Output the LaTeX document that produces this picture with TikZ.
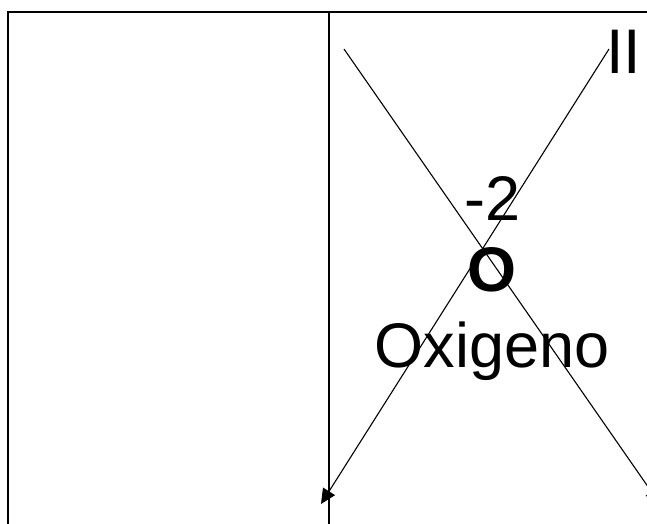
\documentclass[tikz,border=0pt]{standalone}
\usepackage{fontspec}
\setmainfont{Liberation Sans}
\usetikzlibrary{arrows.meta}
\tikzset{
  frameline/.style={line width=2pt, line cap=rect},
  crossline/.style={line width=1.1pt, -{Triangle[length=15pt,width=14pt]}},
  bigtext/.style={inner sep=0pt, anchor=base, font=\fontsize{63}{70}\selectfont}
}
\begin{document}
\begin{tikzpicture}[x=1pt,y=-1pt]
\useasboundingbox (0,0) rectangle (647,523);
\clip (0,0) rectangle (647,523);
\coordinate (tl) at (8,12);
\coordinate (tr) at (660,12);
\coordinate (bl) at (8,540);
\coordinate (mt) at (329,12);
\coordinate (mb) at (329,540);
\draw[frameline] (bl) -- (tl) -- (tr);
\draw[frameline] (mt) -- (mb);
\coordinate (aStart) at (344,49);
\coordinate (aEnd) at (660,504);
\coordinate (bStart) at (609,49);
\coordinate (bEnd) at (321,504);
\draw[crossline] (aStart) -- (aEnd);
\draw[crossline] (bStart) -- (bEnd);
\node[bigtext, anchor=base west] (ii) at (606,73) {II};
\node[bigtext] (charge) at (493,220) {-2};
\node[bigtext, font=\fontsize{63}{70}\selectfont\bfseries] (sym) at (492,291) {O};
\node[bigtext] (name) at (492,367) {Oxigeno};
\end{tikzpicture}
\end{document}
